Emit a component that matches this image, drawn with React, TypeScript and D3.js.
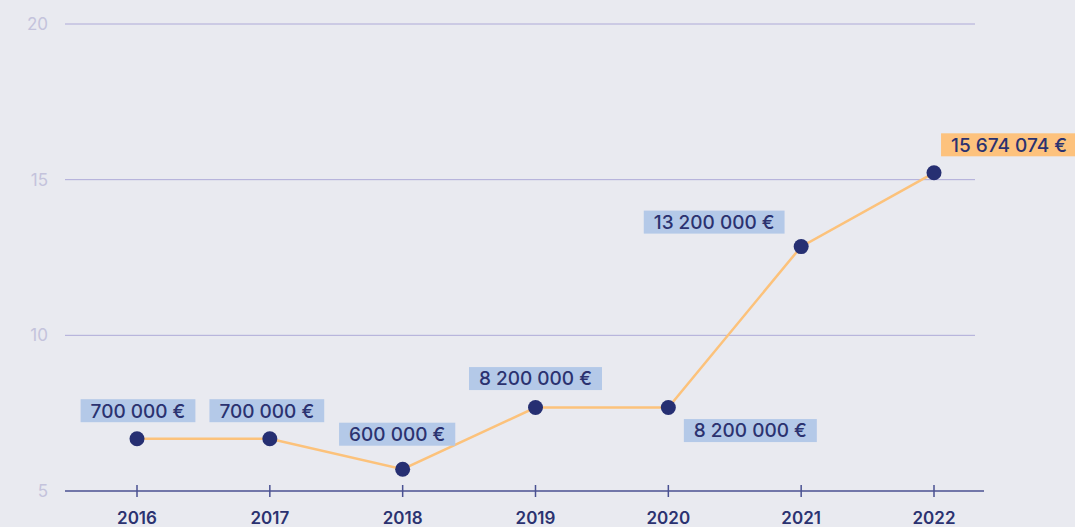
import React, { useEffect, useRef } from "react";
import * as d3 from "d3";

const years = ["2016", "2017", "2018", "2019", "2020", "2021", "2022"];
const values = [6.68, 6.68, 5.7, 7.68, 7.68, 12.85, 15.22];
const labels = ["700 000 €", "700 000 €", "600 000 €", "8 200 000 €", "8 200 000 €", "13 200 000 €", "15 674 074 €"];
const yTicks = [5, 10, 15, 20];
// label box placement relative to the point: [dx of box center, dy of box center]
const labelOffsets: [number, number][] = [
  [1, -28], [-3, -28], [-5.5, -35], [0, -29], [82, 23], [-87, -24.5], [75, -28],
];
const highlight = [false, false, false, false, false, false, true];

const W = 1075, H = 527;
const FONT = "Inter, 'Open Sans', sans-serif";

export default function App() {
  const ref = useRef<SVGSVGElement>(null);
  useEffect(() => {
    const svg = d3.select(ref.current!);
    svg.selectAll("*").remove();
    const x = d3.scalePoint<string>().domain(years).range([137, 934]);
    const y = d3.scaleLinear().domain([5, 20]).range([491, 24]);

    svg.append("rect").attr("width", W).attr("height", H).attr("fill", "#e9eaf0");

    const grid = svg.append("g");
    yTicks.filter((t) => t > 5).forEach((t) => {
      grid.append("line").attr("x1", 65).attr("x2", 975)
        .attr("y1", y(t)).attr("y2", y(t))
        .attr("stroke", "#aeaad8").attr("stroke-width", 1);
    });
    yTicks.forEach((t) => {
      grid.append("text").attr("x", 48).attr("y", y(t)).attr("dy", "0.36em")
        .attr("text-anchor", "end").attr("fill", "#c4c3dc")
        .attr("font-family", FONT).attr("font-size", 17)
        .text(String(t));
    });

    // x axis
    const ax = svg.append("g");
    ax.append("line").attr("x1", 65).attr("x2", 984).attr("y1", y(5)).attr("y2", y(5))
      .attr("stroke", "#4a5192").attr("stroke-width", 1.5);
    years.forEach((yr) => {
      ax.append("line").attr("x1", x(yr)!).attr("x2", x(yr)!).attr("y1", y(5) - 6).attr("y2", y(5) + 6)
        .attr("stroke", "#4a5192").attr("stroke-width", 1.5);
      ax.append("text").attr("x", x(yr)!).attr("y", 524).attr("text-anchor", "middle")
        .attr("fill", "#2b3270").attr("font-family", FONT)
        .attr("font-weight", 600).attr("font-size", 17).text(yr);
    });

    const line = d3.line<number>().x((_, i) => x(years[i])!).y((d) => y(d));
    svg.append("path").datum(values).attr("d", line).attr("fill", "none")
      .attr("stroke", "#fcc27b").attr("stroke-width", 2.5);

    values.forEach((v, i) => {
      svg.append("circle").attr("cx", x(years[i])!).attr("cy", y(v)).attr("r", 7.5).attr("fill", "#262f72");
    });

    values.forEach((v, i) => {
      const cx = x(years[i])! + labelOffsets[i][0];
      const cy = y(v) + labelOffsets[i][1];
      const g = svg.append("g");
      const rect = g.append("rect").attr("fill", highlight[i] ? "#fdc27d" : "#b4c9e8");
      const t = g.append("text").attr("x", cx).attr("y", cy).attr("dy", "0.36em")
        .attr("text-anchor", "middle").attr("fill", "#2b3270")
        .attr("font-family", FONT).attr("font-weight", 500).attr("font-size", 19)
        .text(labels[i]);
      const tw = (t.node() as SVGTextElement).getComputedTextLength();
      const bw = tw + 20, bh = 23;
      rect.attr("x", cx - bw / 2).attr("y", cy - bh / 2).attr("width", bw).attr("height", bh);
    });
  }, []);
  return (
    <svg ref={ref} width={W} height={H} style={{ position: "absolute", left: 0, top: 0, display: "block" }} />
  );
}
